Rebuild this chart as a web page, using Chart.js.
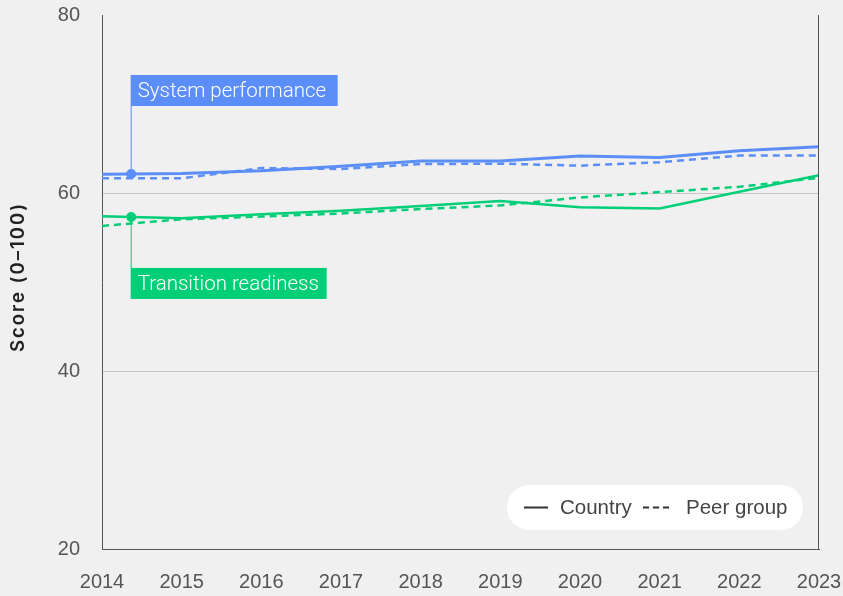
<!DOCTYPE html>
<html>
<head>
<meta charset="utf-8">
<script src="https://cdn.jsdelivr.net/npm/chart.js@4"></script>
<style>
  html, body { margin: 0; padding: 0; background: #f0f0f0; }
  #wrap { width: 843px; height: 596px; }
</style>
</head>
<body>
<div id="wrap"><canvas id="myChart" width="843" height="596"></canvas></div>
<script>
// Werte
const years = [2014, 2015, 2016, 2017, 2018, 2019, 2020, 2021, 2022, 2023];
const systemCountry = [62.1, 62.2, 62.5, 63.0, 63.6, 63.6, 64.15, 64.0, 64.75, 65.2];
const systemPeer = [61.65, 61.65, 62.8, 62.7, 63.25, 63.3, 63.07, 63.45, 64.2, 64.2];
const transitionCountry = [57.4, 57.15, 57.6, 58.0, 58.55, 59.1, 58.4, 58.25, 60.15, 62.0];
const transitionPeer = [56.3, 57.05, 57.35, 57.7, 58.2, 58.6, 59.5, 60.1, 60.7, 61.7];
const yTicks = [20, 40, 60, 80];
const labelYear = 2014.36;

const BLUE = '#5b8ef9';
const GREEN = '#00cf78';
const FONT = '"Liberation Sans", Arial, sans-serif';

function pts(vals) { return years.map((y, i) => ({ x: y, y: vals[i] })); }
function valueAt(vals, x) {
  const i = Math.min(years.length - 2, Math.floor(x - years[0]));
  const t = x - years[i];
  return vals[i] + (vals[i + 1] - vals[i]) * t;
}

// Rahmen rechts, Achsentitel, Beschriftungen und Legende
const extras = {
  id: 'extras',
  afterDatasetsDraw(chart) {
    const { ctx, chartArea: a, scales: { x, y } } = chart;
    ctx.save();
    ctx.strokeStyle = '#555';
    ctx.lineWidth = 1;
    ctx.beginPath();
    ctx.moveTo(a.right - 0.5, a.top);
    ctx.lineTo(a.right - 0.5, a.bottom);
    ctx.stroke();

    // Achsentitel
    ctx.save();
    ctx.translate(18, (a.top + a.bottom) / 2 - 4);
    ctx.rotate(-Math.PI / 2);
    ctx.fillStyle = '#222';
    ctx.font = '600 18.5px Inter, ' + FONT;
    ctx.letterSpacing = '2px';
    ctx.textAlign = 'center';
    ctx.textBaseline = 'middle';
    ctx.fillText('Score (0–100)', 1, 0);
    ctx.restore();

    const callouts = [
      { text: 'System performance', color: BLUE, vals: systemCountry, dy: -68, w: 207 },
      { text: 'Transition readiness', color: GREEN, vals: transitionCountry, dy: 51, w: 196 }
    ];
    callouts.forEach(c => {
      const px = x.getPixelForValue(labelYear);
      const py = y.getPixelForValue(valueAt(c.vals, labelYear));
      const h = 31;
      const boxTop = c.dy < 0 ? py + c.dy - h : py + c.dy;
      ctx.strokeStyle = c.color;
      ctx.lineWidth = 1;
      ctx.beginPath();
      ctx.moveTo(px + 0.5, py);
      ctx.lineTo(px + 0.5, c.dy < 0 ? boxTop + h : boxTop);
      ctx.stroke();
      ctx.fillStyle = c.color;
      ctx.fillRect(px, boxTop, c.w, h);
      ctx.beginPath();
      ctx.arc(px + 0.5, py, 5, 0, Math.PI * 2);
      ctx.fill();
      ctx.fillStyle = '#fff';
      ctx.font = '300 20.5px Roboto, ' + FONT;
      ctx.textBaseline = 'middle';
      ctx.fillText(c.text, px + 7, boxTop + h / 2 + 1);
    });

    // Legende
    const lx = 507, ly = 485, lw = 296, lh = 45, r = 22;
    ctx.fillStyle = '#fff';
    ctx.beginPath();
    ctx.roundRect(lx, ly, lw, lh, r);
    ctx.fill();
    ctx.strokeStyle = '#333';
    ctx.lineWidth = 2;
    ctx.beginPath();
    ctx.moveTo(524, ly + lh / 2);
    ctx.lineTo(548, ly + lh / 2);
    ctx.stroke();
    ctx.setLineDash([6, 4]);
    ctx.beginPath();
    ctx.moveTo(643, ly + lh / 2);
    ctx.lineTo(669, ly + lh / 2);
    ctx.stroke();
    ctx.setLineDash([]);
    ctx.fillStyle = '#444';
    ctx.font = '20.5px ' + FONT;
    ctx.textBaseline = 'middle';
    ctx.fillText('Country', 560, ly + lh / 2 + 1);
    ctx.fillText('Peer group', 686, ly + lh / 2 + 1);
    ctx.restore();
  }
};

const ctx = document.getElementById('myChart').getContext('2d');
const myChart = new Chart(ctx, {
  type: 'line',
  data: {
    datasets: [
      { label: 'System performance – Country', data: pts(systemCountry), borderColor: BLUE, borderWidth: 3 },
      { label: 'System performance – Peer group', data: pts(systemPeer), borderColor: BLUE, borderWidth: 2.5, borderDash: [7, 5] },
      { label: 'Transition readiness – Country', data: pts(transitionCountry), borderColor: GREEN, borderWidth: 2.5 },
      { label: 'Transition readiness – Peer group', data: pts(transitionPeer), borderColor: GREEN, borderWidth: 2.5, borderDash: [7, 5] }
    ]
  },
  options: {
    responsive: false,
    animation: false,
    elements: { point: { radius: 0 }, line: { tension: 0 } },
    layout: { padding: { top: 15, right: 24, left: 0, bottom: 0 } },
    plugins: { legend: { display: false }, tooltip: { enabled: false } },
    scales: {
      x: {
        type: 'linear',
        min: 2014,
        max: 2023,
        grid: { display: false, drawTicks: false },
        border: { display: true, color: '#555', width: 1 },
        afterFit(scale) {
          scale.height = 47;
          scale.paddingLeft = 0;
          scale.paddingRight = 0;
        },
        ticks: {
          stepSize: 1,
          padding: 21,
          color: '#555',
          font: { family: FONT, size: 20 },
          callback: v => String(v)
        }
      },
      y: {
        min: 20,
        max: 80,
        afterBuildTicks(scale) { scale.ticks = yTicks.map(v => ({ value: v })); },
        afterFit(scale) {
          scale.width = 102;
          scale.paddingTop = 0;
          scale.paddingBottom = 0;
        },
        grid: {
          drawTicks: false,
          color: c => (c.tick.value === 20 || c.tick.value === 80) ? 'rgba(0,0,0,0)' : '#c4c4c4',
          lineWidth: 1
        },
        border: { display: true, color: '#555', width: 1 },
        title: { display: false },
        ticks: {
          padding: 22,
          color: '#555',
          font: { family: FONT, size: 20 }
        }
      }
    }
  },
  plugins: [extras]
});
</script>
</body>
</html>
